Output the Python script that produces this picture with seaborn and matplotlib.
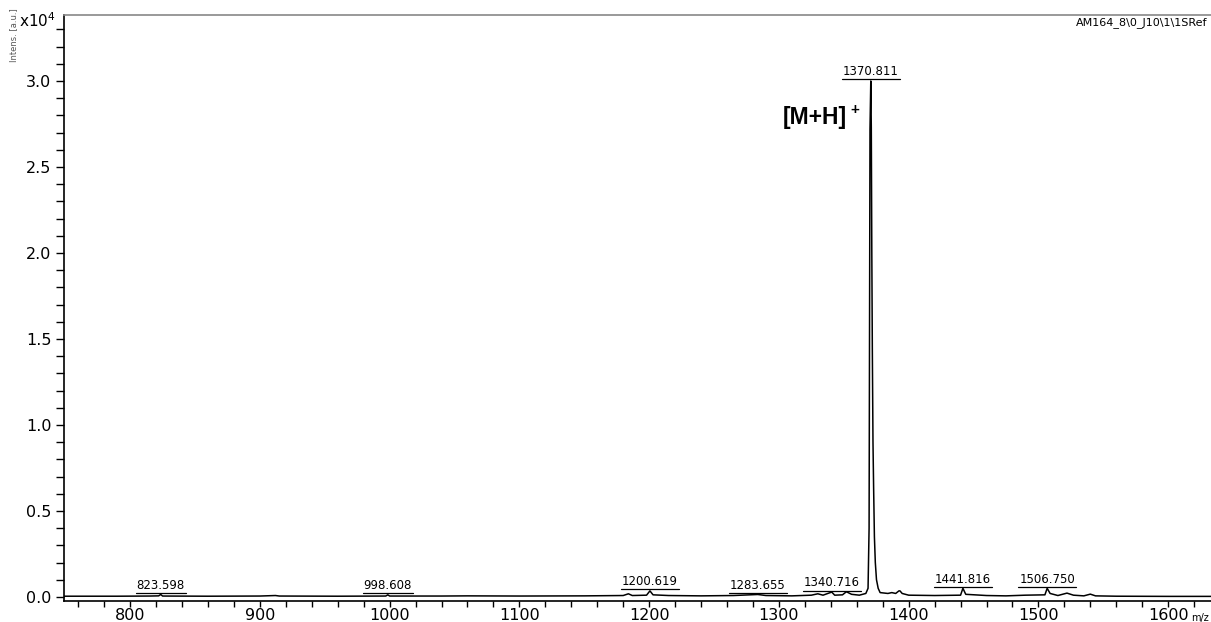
import seaborn as sns
import pandas as pd
import matplotlib.pyplot as plt
from matplotlib.ticker import MultipleLocator

# spectrum (intensity in units of 1e4)
mz = [749, 790, 815, 822, 823.6, 825, 860, 900, 912, 915, 960, 997, 998.6, 1000,
      1040, 1060, 1100, 1150, 1180, 1184, 1187, 1198, 1200.6, 1203, 1215, 1240,
      1265, 1283.7, 1290, 1310, 1325, 1330, 1334, 1340.7, 1343, 1349, 1352, 1356,
      1362, 1367, 1368.7, 1369.5, 1370.2, 1370.811, 1371.2, 1371.6, 1372.0, 1372.5,
      1373.0, 1373.6, 1374.3, 1375.2, 1376.5, 1378, 1384, 1387, 1390, 1392.5,
      1393.3, 1395, 1400, 1420, 1440, 1441.8, 1444, 1460, 1475, 1490, 1505,
      1506.75, 1509, 1515, 1522, 1527, 1535, 1540, 1544, 1560, 1600, 1633]
intens = [0.004, 0.004, 0.005, 0.006, 0.014, 0.005, 0.004, 0.005, 0.008, 0.005,
          0.004, 0.005, 0.012, 0.005, 0.005, 0.006, 0.005, 0.006, 0.008, 0.018,
          0.008, 0.010, 0.035, 0.012, 0.008, 0.006, 0.008, 0.014, 0.008, 0.006,
          0.010, 0.018, 0.010, 0.028, 0.010, 0.012, 0.030, 0.015, 0.010, 0.020,
          0.050, 0.40, 2.72, 3.00, 2.73, 2.00, 1.44, 0.90, 0.63, 0.35, 0.20, 0.10,
          0.05, 0.025, 0.020, 0.025, 0.020, 0.035, 0.035, 0.020, 0.010, 0.008,
          0.010, 0.050, 0.015, 0.008, 0.006, 0.010, 0.012, 0.050, 0.020, 0.008,
          0.022, 0.010, 0.006, 0.016, 0.006, 0.004, 0.003, 0.003]

peak_mz = [823.598, 998.608, 1200.619, 1283.655, 1340.716, 1370.811, 1441.816, 1506.750]
peak_h = [0.014, 0.012, 0.035, 0.014, 0.028, 3.00, 0.050, 0.050]

df = pd.DataFrame({'mz': mz, 'intens': intens})

sns.set_style('ticks')
plt.rcParams['font.family'] = ['DejaVu Sans']
plt.rcParams['text.color'] = 'black'
plt.rcParams['xtick.color'] = 'black'
plt.rcParams['ytick.color'] = 'black'

fig = plt.figure(figsize=(12.11, 6.22), dpi=100)
ax = fig.add_axes([0.0528, 0.034, 0.9472, 0.942])

sns.lineplot(data=df, x='mz', y='intens', ax=ax, color='black', linewidth=1.1,
             estimator=None, sort=True)

ax.set_xlim(749, 1633)
ax.set_ylim(-0.023, 3.384)
ax.xaxis.set_major_locator(MultipleLocator(100))
ax.xaxis.set_minor_locator(MultipleLocator(20))
ax.yaxis.set_major_locator(MultipleLocator(0.5))
ax.yaxis.set_minor_locator(MultipleLocator(0.1))
ax.tick_params(axis='x', which='major', length=4, width=1, labelsize=11.5, pad=1)
ax.tick_params(axis='x', which='minor', length=4, width=1)
ax.tick_params(axis='y', which='both', length=6, width=1, labelsize=11.5, pad=3)
ax.yaxis.set_major_formatter(plt.FormatStrFormatter('%.1f'))
ax.set_xlabel('')
ax.set_ylabel('')

for s in ['left', 'bottom']:
    ax.spines[s].set_color('black')
    ax.spines[s].set_linewidth(1.2)
ax.spines['top'].set_color('#888888')
ax.spines['top'].set_linewidth(1.2)
ax.spines['right'].set_visible(False)

# peak labels with underline
texts = []
for m, h in zip(peak_mz, peak_h):
    t = ax.annotate(f'{m:.3f}', xy=(m, h), xytext=(0, 2.0), textcoords='offset points',
                    ha='center', va='bottom', fontsize=8.5, color='black')
    texts.append((t, m, h))

fig.canvas.draw()
renderer = fig.canvas.get_renderer()
inv = ax.transData.inverted()
for t, m, h in texts:
    bb = t.get_window_extent(renderer)
    y_disp = ax.transData.transform((m, h))[1] + 1.5
    x0 = inv.transform((bb.x0 - 1, y_disp))
    x1 = inv.transform((bb.x1 + 1, y_disp))
    ax.plot([x0[0], x1[0]], [x0[1], x1[1]], color='black', linewidth=0.9)

ax.text(1327.8, 2.785, '[M+H]', fontsize=16.5, fontweight='bold', color='black',
        family='Liberation Sans', ha='center', va='center')
ax.text(1358.5, 2.83, '+', fontsize=11, fontweight='bold', color='black',
        family='Liberation Sans', ha='center', va='center')

fig.text(0.997, 0.963, 'AM164_8\\0_J10\\1\\1SRef', fontsize=8, ha='right', va='center')
fig.text(0.031, 0.966, r'x10$^4$', fontsize=11, ha='center', va='center')
fig.text(0.011, 0.944, 'Intens. [a.u.]', fontsize=6, rotation=90,
         ha='center', va='center', color='#555555')
fig.text(0.991, 0.007, 'm/z', fontsize=7, ha='center', va='center')

plt.savefig('out.png', dpi=100)
plt.close()
